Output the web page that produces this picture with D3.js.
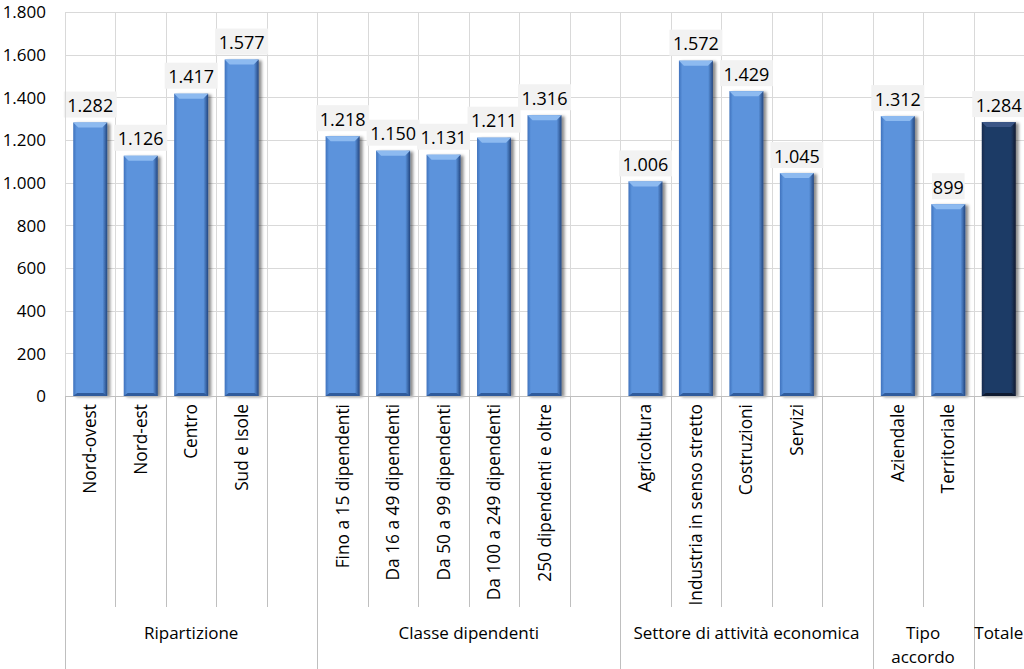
<!DOCTYPE html>
<html><head><meta charset="utf-8">
<script src="https://cdn.jsdelivr.net/npm/d3@7"></script>
<style>
html,body{margin:0;padding:0;background:#fff;}
svg{display:block;font-family:"Open Sans",sans-serif;}
</style></head>
<body><svg id="c" width="1024" height="669"></svg>
<script>
// ---- data ----
const categories = ["Nord-ovest","Nord-est","Centro","Sud e Isole","",
  "Fino a 15 dipendenti","Da 16 a 49 dipendenti","Da 50 a 99 dipendenti","Da 100 a 249 dipendenti","250 dipendenti e oltre","",
  "Agricoltura","Industria in senso stretto","Costruzioni","Servizi","",
  "Aziendale","Territoriale",""];
const values = [1282,1126,1417,1577,null,
  1218,1150,1131,1211,1316,null,
  1006,1572,1429,1045,null,
  1312,899,1284];
const highlight = [false,false,false,false,false,false,false,false,false,false,false,false,false,false,false,false,false,false,true];
const groupNames = [["Ripartizione"],["Classe dipendenti"],["Settore di attività economica"],["Tipo","accordo"],["Totale"]];
const groupSizes = [5,6,5,2,1];
const yTicks = [0,200,400,600,800,1000,1200,1400,1600,1800];

// ---- layout ----
const W=1024,H=669;
const mLeft=65,mRight=1024,mTop=12,axisY=396;
const svg=d3.select("#c");
const loc=d3.formatLocale({decimal:",",thousands:".",grouping:[3],currency:["€",""]});
const fmt=loc.format(",d");

const x=d3.scaleBand().domain(d3.range(categories.length)).range([mLeft,mRight]).paddingInner(0).paddingOuter(0);
const y=d3.scaleLinear().domain([0,1800]).range([axisY,mTop]);

const defs=svg.append("defs");
function grad(id,c0,c1,c2){
  const g=defs.append("linearGradient").attr("id",id).attr("x1","0").attr("x2","1").attr("y1","0").attr("y2","0");
  g.append("stop").attr("offset","0").attr("stop-color",c0);
  g.append("stop").attr("offset","0.1").attr("stop-color",c1);
  g.append("stop").attr("offset","0.86").attr("stop-color",c1);
  g.append("stop").attr("offset","1").attr("stop-color",c2);
}
grad("gBlue","#3f72bd","#5b93dc","#23467f");
grad("gNavy","#172a4c","#1f3a66","#0e1a30");
const f=defs.append("filter").attr("id","sh").attr("x","-20%").attr("y","-10%").attr("width","150%").attr("height","130%");
f.append("feDropShadow").attr("dx",3).attr("dy",1).attr("stdDeviation",1.8).attr("flood-color","#000").attr("flood-opacity",0.45);

// gridlines horizontal
svg.append("g").selectAll("line").data(yTicks.slice(1)).join("line")
  .attr("x1",mLeft).attr("x2",mRight).attr("y1",d=>Math.round(y(d))+0.5).attr("y2",d=>Math.round(y(d))+0.5)
  .attr("stroke","#d9d9d9").attr("stroke-width",1);
// vertical gridlines at slot boundaries
const bounds=d3.range(categories.length+1).map(i=>i<categories.length?x(i):mRight);
svg.append("g").selectAll("line").data(bounds.slice(1,-1)).join("line")
  .attr("x1",d=>Math.round(d)+0.5).attr("x2",d=>Math.round(d)+0.5).attr("y1",mTop).attr("y2",axisY)
  .attr("stroke","#d9d9d9");

// y axis labels
const yAxis=d3.axisLeft(y).tickValues(yTicks).tickFormat(fmt).tickSize(0).tickPadding(0);
const ya=svg.append("g").attr("transform",`translate(${mLeft-19},0)`).call(yAxis);
ya.select(".domain").remove();
ya.selectAll("text").attr("font-family","Open Sans").attr("font-size",17).attr("fill","#000").attr("dy","0.34em");

// bars
const bw=34;
const bars=svg.append("g");
categories.forEach((c,i)=>{
  const v=values[i]; if(v==null) return;
  const cx=x(i)+x.bandwidth()/2;
  const x0=cx-bw/2, yt=y(v);
  const g=bars.append("g");
  g.append("rect").attr("x",x0).attr("y",yt).attr("width",bw).attr("height",axisY-yt)
    .attr("fill",highlight[i]?"url(#gNavy)":"url(#gBlue)").attr("filter","url(#sh)");
  g.append("path").attr("d",`M${x0},${yt}L${x0+bw},${yt}L${x0+bw-5},${yt+5}L${x0+5},${yt+5}Z`)
    .attr("fill",highlight[i]?"#3b5686":"#8dbaf0");
  g.append("path").attr("d",`M${x0},${axisY}L${x0+bw},${axisY}L${x0+bw-4},${axisY-3}L${x0+4},${axisY-3}Z`)
    .attr("fill",highlight[i]?"#0e1a30":"#2f5b9c");
});

// labels
const lab=svg.append("g");
categories.forEach((c,i)=>{
  const v=values[i]; if(v==null) return;
  const cx=x(i)+x.bandwidth()/2, yt=y(v);
  const t=fmt(v);
  const w=t.length*10.2+2;
  lab.append("rect").attr("x",cx-w/2).attr("y",yt-31).attr("width",w).attr("height",26).attr("fill","#f2f2f2");
  lab.append("text").attr("x",cx).attr("y",yt-10.5).attr("text-anchor","middle")
    .attr("font-size",18).attr("fill","#000").text(t);
});

// axis lines
svg.append("line").attr("x1",mLeft).attr("x2",mRight).attr("y1",axisY+0.5).attr("y2",axisY+0.5).attr("stroke","#bfbfbf");
svg.append("line").attr("x1",mLeft+0.5).attr("x2",mLeft+0.5).attr("y1",mTop).attr("y2",axisY).attr("stroke","#d9d9d9");

// category ticks
const lvl1Bottom=607;
const gStart=[0];groupSizes.forEach((s,k)=>gStart.push(gStart[k]+s));
const gb=new Set(gStart);
svg.append("g").selectAll("line").data(d3.range(categories.length)).join("line")
  .attr("x1",i=>Math.round(bounds[i])+0.5).attr("x2",i=>Math.round(bounds[i])+0.5)
  .attr("y1",axisY).attr("y2",i=>gb.has(i)?H:lvl1Bottom)
  .attr("stroke","#bfbfbf");

// rotated labels
svg.append("g").selectAll("text").data(categories.map((c,i)=>({c,i})).filter(d=>d.c)).join("text")
  .attr("transform",d=>`translate(${x(d.i)+x.bandwidth()/2+6},${axisY+8}) rotate(-90)`)
  .attr("text-anchor","end").attr("font-size",17.3).attr("fill","#000").text(d=>d.c);

// group labels
groupNames.forEach((lines,k)=>{
  const x0=bounds[gStart[k]], x1=bounds[gStart[k+1]];
  const cx=(x0+x1)/2;
  lines.forEach((ln,j)=>{
    svg.append("text").attr("x",cx).attr("y",639+j*24).attr("text-anchor","middle")
      .attr("font-size",17).attr("fill","#000").text(ln);
  });
});
</script></body></html>
